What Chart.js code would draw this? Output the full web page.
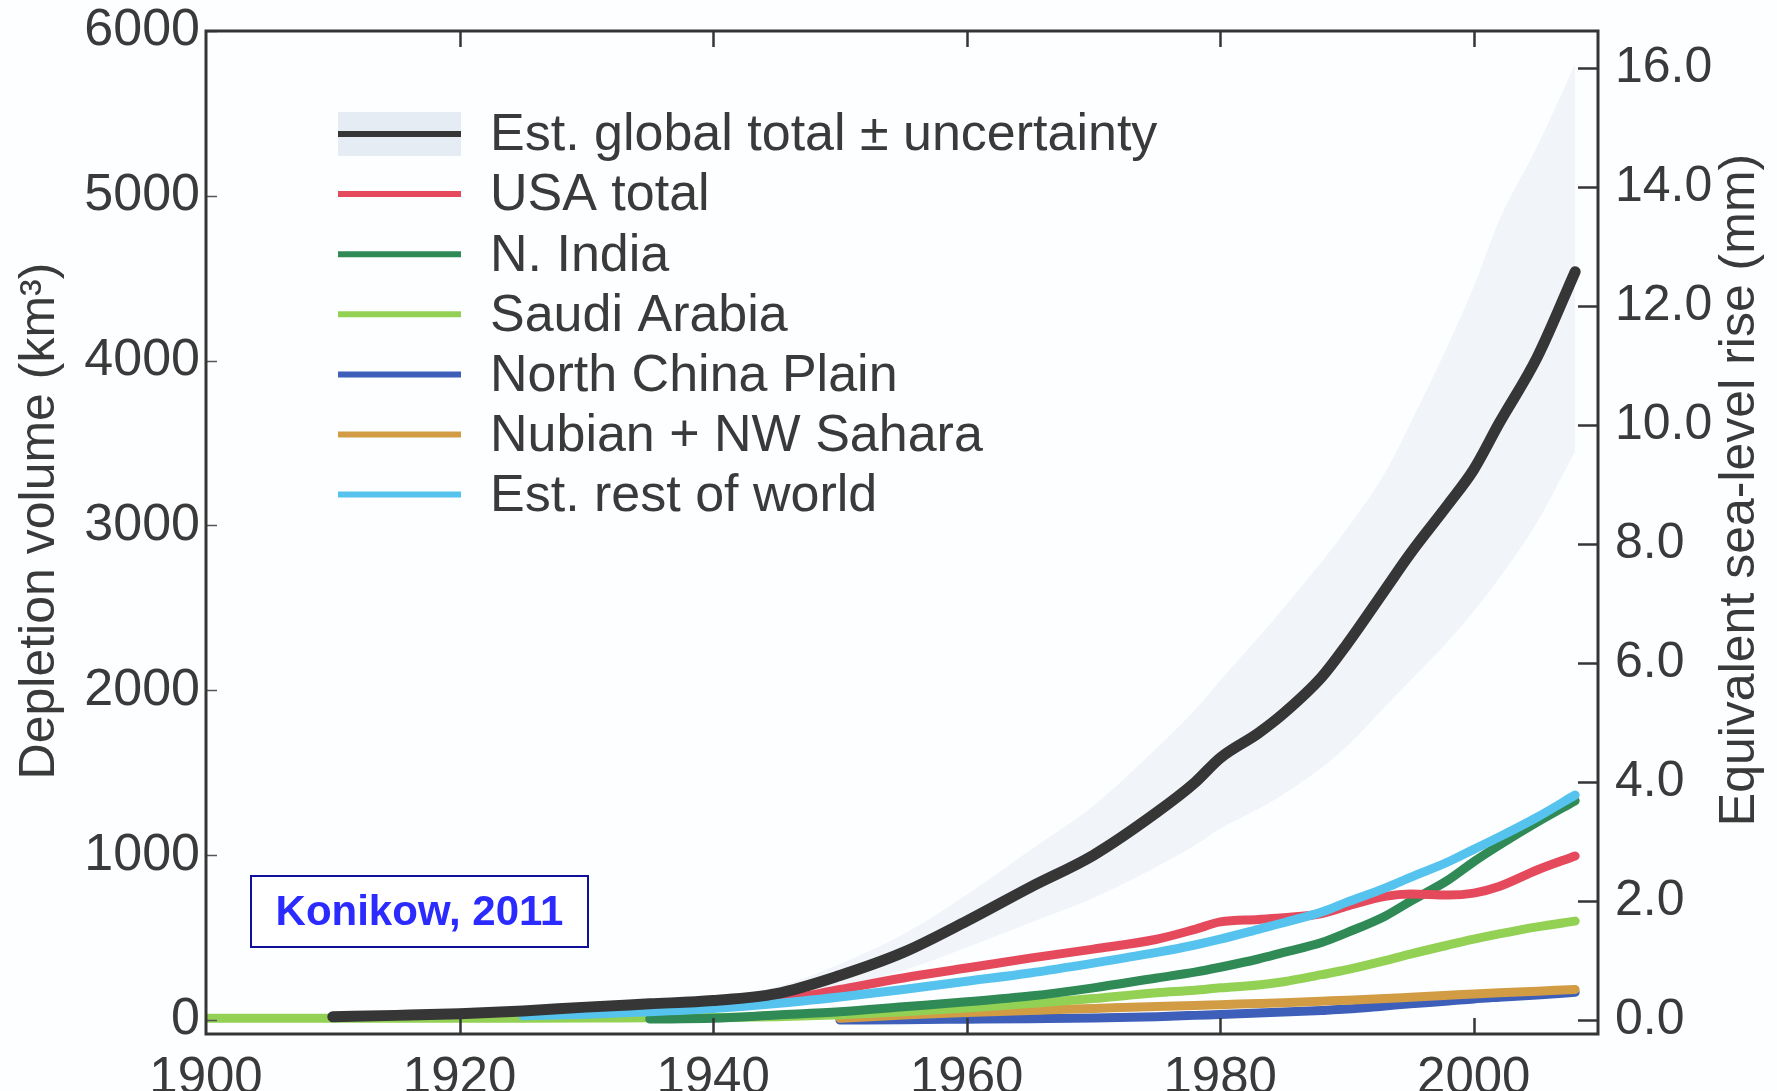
<!DOCTYPE html>
<html>
<head>
<meta charset="utf-8">
<title>Groundwater depletion 1900–2008</title>
<script src="https://cdn.jsdelivr.net/npm/chart.js@4/dist/chart.umd.min.js"></script>
<style>
  html, body { margin: 0; padding: 0; background: #fdfeff; }
  canvas { display: block; }
</style>
</head>
<body>
<canvas id="chart" width="1777" height="1091"></canvas>
<script>
// Cumulative groundwater depletion (km³), 1900–2008
const years = [1900, 1905, 1910, 1915, 1920, 1925, 1930, 1935, 1940, 1945, 1950, 1955, 1960, 1965,
               1970, 1975, 1978, 1980, 1983, 1985, 1988, 1990, 1993, 1995, 1998, 2000, 2002, 2005, 2008];

const globalTotal = [null, null, 20, 28, 38, 55, 78, 98, 118, 160, 270, 410, 600, 805,
                     1000, 1260, 1440, 1590, 1740, 1860, 2080, 2280, 2610, 2830, 3130, 3340, 3620, 4020, 4540];
const globalUpper = [null, null, 22, 30, 42, 62, 88, 112, 140, 200, 340, 520, 760, 1030,
                     1300, 1650, 1880, 2060, 2320, 2500, 2780, 2980, 3320, 3620, 4100, 4450, 4850, 5300, 5800];
const globalLower = [null, null, 18, 25, 34, 48, 68, 85, 100, 125, 200, 300, 440, 590,
                     740, 930, 1060, 1160, 1280, 1370, 1530, 1660, 1900, 2060, 2300, 2480, 2680, 3020, 3450];
const usaTotal    = [null, null, null, null, null, null, 40, 60, 85, 115, 185, 255, 315, 375,
                     430, 490, 550, 595, 610, 620, 645, 690, 750, 765, 758, 770, 810, 910, 995];
const nIndia      = [null, null, null, null, null, null, null, 6, 10, 30, 50, 80, 110, 145,
                     195, 255, 290, 320, 370, 410, 470, 530, 630, 720, 850, 960, 1060, 1200, 1330];
const saudiArabia = [10, 10, 10, 10, 10, 11, 12, 13, 15, 20, 32, 50, 72, 100,
                     130, 165, 180, 195, 212, 232, 275, 305, 360, 400, 455, 490, 522, 565, 600];
const northChina  = [null, null, null, null, null, null, null, null, null, null, 0, 2, 5, 8,
                     12, 20, 28, 34, 42, 48, 58, 66, 85, 98, 115, 128, 138, 152, 168];
const nubianSahara= [null, null, null, null, null, null, null, null, null, null, 10, 30, 45, 58,
                     70, 82, 88, 93, 100, 105, 114, 120, 130, 138, 150, 158, 165, 175, 185];
const restOfWorld = [null, null, null, null, null, 25, 35, 50, 70, 100, 140, 185, 235, 285,
                     345, 410, 455, 490, 550, 590, 655, 715, 800, 865, 960, 1035, 1110, 1230, 1365];

const seriesNames = ['Est. global total \u00B1 uncertainty', 'USA total', 'N. India', 'Saudi Arabia',
                     'North China Plain', 'Nubian + NW Sahara', 'Est. rest of world'];

const xTicks = [1900, 1920, 1940, 1960, 1980, 2000];
const yTicks = [0, 1000, 2000, 3000, 4000, 5000, 6000];
const seaTicks = [0, 2, 4, 6, 8, 10, 12, 14, 16];

const KM3_PER_MM = 361;          // km³ of water per mm of global sea level
const Y_MIN = -85, Y_MAX = 6000;
const X_MIN = 1900, X_MAX = 2009.8;

const FONT = '"Liberation Sans", Arial, Helvetica, sans-serif';
const INK = '#3a3a3a';

const pts = arr => years.map((yr, i) => ({ x: yr, y: arr[i] }));

function line(label, data, color, width) {
  return {
    label, data: pts(data), borderColor: color, backgroundColor: color,
    borderWidth: width, pointRadius: 0, fill: false,
    cubicInterpolationMode: 'monotone', borderCapStyle: 'round', borderJoinStyle: 'round',
    yAxisID: 'y'
  };
}

// first dataset is painted last (on top)
const datasets = [
  line(seriesNames[0], globalTotal, '#363636', 11),
  line(seriesNames[6], restOfWorld, '#55c3ee', 9),
  line(seriesNames[1], usaTotal, '#e54a5c', 9),
  line(seriesNames[2], nIndia, '#2f8a56', 9),
  line(seriesNames[3], saudiArabia, '#93d155', 9),
  line(seriesNames[5], nubianSahara, '#d29c45', 9),
  line(seriesNames[4], northChina, '#3d5fba', 9),
  { label: 'upper', data: pts(globalUpper), borderWidth: 0, pointRadius: 0, borderColor: 'rgba(0,0,0,0)',
    backgroundColor: '#f1f4f9', fill: '+1', cubicInterpolationMode: 'monotone', yAxisID: 'y' },
  { label: 'lower', data: pts(globalLower), borderWidth: 0, pointRadius: 0, borderColor: 'rgba(0,0,0,0)',
    fill: false, cubicInterpolationMode: 'monotone', yAxisID: 'y' }
];

const legendItems = [
  { name: seriesNames[0], color: '#363636', band: '#e6ecf4' },
  { name: seriesNames[1], color: '#e54a5c' },
  { name: seriesNames[2], color: '#2f8a56' },
  { name: seriesNames[3], color: '#93d155' },
  { name: seriesNames[4], color: '#3d5fba' },
  { name: seriesNames[5], color: '#d29c45' },
  { name: seriesNames[6], color: '#55c3ee' }
];

// frame, inward ticks, axis titles, legend and citation box
const decorations = {
  id: 'decorations',
  beforeDraw(chart) {
    const c = chart.ctx;
    c.save();
    c.fillStyle = '#fdfeff';
    c.fillRect(0, 0, chart.width, chart.height);
    c.restore();
  },
  afterDraw(chart) {
    const c = chart.ctx;
    const a = chart.chartArea;
    const sx = chart.scales.x, sy = chart.scales.y, s2 = chart.scales.y2;
    c.save();
    c.strokeStyle = '#353535';
    c.lineCap = 'butt';

    // x ticks, bottom and top, pointing inward
    c.lineWidth = 2.5;
    xTicks.slice(1).forEach(v => {
      const px = Math.round(sx.getPixelForValue(v)) + 0.5;
      c.beginPath(); c.moveTo(px, a.bottom); c.lineTo(px, a.bottom - 16); c.stroke();
      c.beginPath(); c.moveTo(px, a.top); c.lineTo(px, a.top + 16); c.stroke();
    });
    // left ticks
    c.lineWidth = 1.5;
    c.strokeStyle = '#555';
    yTicks.forEach(v => {
      const py = Math.round(sy.getPixelForValue(v)) + 0.5;
      c.beginPath(); c.moveTo(a.left, py); c.lineTo(a.left + 11, py); c.stroke();
    });
    // right ticks
    c.lineWidth = 2.5;
    c.strokeStyle = '#353535';
    seaTicks.forEach(v => {
      const py = Math.round(s2.getPixelForValue(v)) + 0.5;
      c.beginPath(); c.moveTo(a.right, py); c.lineTo(a.right - 20, py); c.stroke();
    });
    // frame
    c.lineWidth = 3;
    c.strokeRect(a.left, a.top, a.right - a.left, a.bottom - a.top);

    // axis titles, both read bottom-to-top
    c.fillStyle = INK;
    c.textAlign = 'center';
    c.textBaseline = 'middle';
    c.font = '50px ' + FONT;
    c.save();
    c.translate(40, 521); c.rotate(-Math.PI / 2);
    c.fillText('Depletion volume (km\u00B3)', 0, 0);
    c.restore();
    c.save();
    c.translate(1740, 490); c.rotate(-Math.PI / 2);
    c.fillText('Equivalent sea-level rise (mm)', 0, 0);
    c.restore();

    // legend
    const lx0 = 338, lx1 = 461, tx = 490, row0 = 134, rowGap = 60.1;
    c.font = '52px ' + FONT;
    c.textAlign = 'left';
    legendItems.forEach((it, i) => {
      const y = row0 + i * rowGap;
      if (it.band) {
        c.fillStyle = it.band;
        c.fillRect(lx0, y - 22, lx1 - lx0, 44);
      }
      c.strokeStyle = it.color;
      c.lineWidth = 6;
      c.beginPath(); c.moveTo(lx0, y); c.lineTo(lx1, y); c.stroke();
      c.fillStyle = INK;
      c.fillText(it.name, tx, y + 2);
    });

    // citation box
    c.fillStyle = '#ffffff';
    c.fillRect(251, 876, 337, 71);
    c.strokeStyle = '#10109a';
    c.lineWidth = 2;
    c.strokeRect(251, 876, 337, 71);
    c.fillStyle = '#2b2bff';
    c.font = 'bold 42px ' + FONT;
    c.textAlign = 'center';
    c.fillText('Konikow, 2011', 419.5, 913);
    c.restore();
  }
};

// keep label overhang from shrinking the plot area
const noPad = s => { s.paddingTop = 0; s.paddingBottom = 0; };

new Chart(document.getElementById('chart'), {
  type: 'line',
  data: { datasets },
  options: {
    responsive: false,
    animation: false,
    events: [],
    layout: { padding: { top: 31, left: 0, right: 0, bottom: 0 } },
    plugins: { legend: { display: false }, tooltip: { enabled: false } },
    scales: {
      x: {
        type: 'linear', min: X_MIN, max: X_MAX,
        grid: { display: false, drawTicks: false },
        border: { display: false },
        afterBuildTicks: s => { s.ticks = xTicks.map(v => ({ value: v })); },
        afterFit: s => { s.height = 57; s.paddingLeft = 0; s.paddingRight = 0; },
        ticks: { color: INK, font: { family: FONT, size: 51 }, padding: 14, maxRotation: 0,
                 callback: v => String(v) }
      },
      y: {
        type: 'linear', position: 'left', min: Y_MIN, max: Y_MAX,
        grid: { display: false, drawTicks: false },
        border: { display: false },
        afterBuildTicks: s => { s.ticks = yTicks.map(v => ({ value: v })); },
        afterFit: s => { s.width = 206; noPad(s); },
        ticks: { color: INK, font: { family: FONT, size: 52 }, padding: 6, callback: v => String(v) }
      },
      y2: {
        type: 'linear', position: 'right', min: Y_MIN / KM3_PER_MM, max: Y_MAX / KM3_PER_MM,
        grid: { display: false, drawTicks: false },
        border: { display: false },
        afterBuildTicks: s => { s.ticks = seaTicks.map(v => ({ value: v })); },
        afterFit: s => { s.width = 179; noPad(s); },
        ticks: { color: INK, font: { family: FONT, size: 50 }, padding: 17, callback: v => v.toFixed(1) }
      }
    }
  },
  plugins: [decorations]
});
</script>
</body>
</html>
